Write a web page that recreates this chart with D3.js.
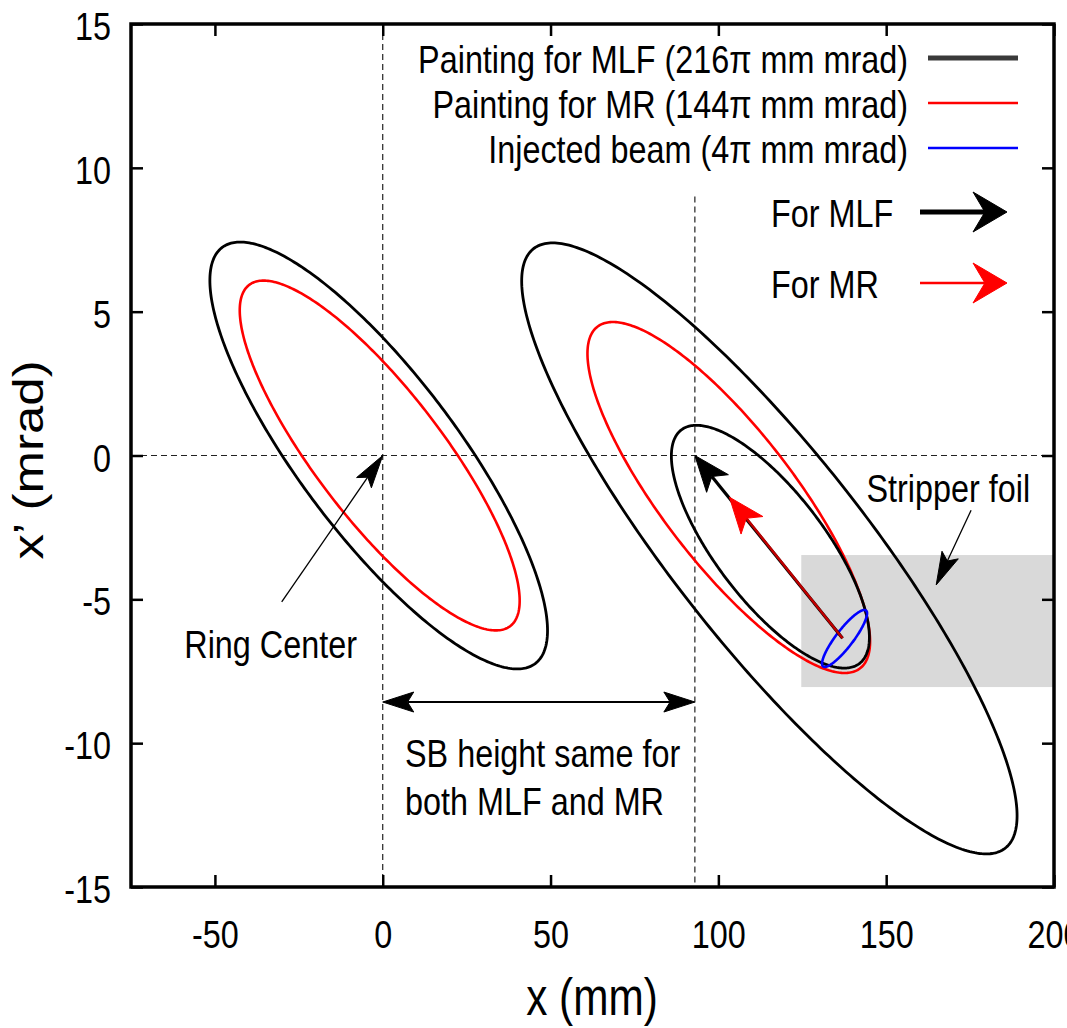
<!DOCTYPE html>
<html>
<head>
<meta charset="utf-8">
<script src="https://cdn.jsdelivr.net/npm/d3@7"></script>
<style>
  html, body { margin: 0; padding: 0; background: #fff; }
  svg { display: block; }
  text { font-family: "Liberation Sans", Arial, Helvetica, sans-serif; fill: #000; }
</style>
</head>
<body>
<svg id="chart" width="1067" height="1028"></svg>
<script>
// ---------------- data ----------------
const xTicks = [-50, 0, 50, 100, 150, 200];
const yTicks = [-15, -10, -5, 0, 5, 10, 15];
const xDomain = [-75, 200];
const yDomain = [-15, 15];

// phase-space ellipses: centre (mm, mrad), half-extent in x (mm), in x' (mrad), x-x' correlation
const ellipseSeries = ["MLF", "MR", "MLF", "MR", "MLF", "INJ"];
const ellipseCx     = [-1.2, -0.9, 115.2, 103.1, 115.5, 137.6];
const ellipseCy     = [0, 0, -3.23, -1.46, -3.17, -6.36];
const ellipseHalfX  = [50.3, 41.7, 73.8, 42.1, 29.5, 6.7];
const ellipseHalfXp = [7.42, 6.08, 10.62, 6.1, 4.22, 0.99];
const ellipseCorr   = [-0.82, -0.83, -0.875, -0.82, -0.746, 0.88];

// painting arrows (x mm, x' mrad)
const paintStart = [137, -6.35];
const paintEndMLF = [93, 0];
const paintEndMR = [103.3, -1.45];

// reference lines
const ringCenter = [0, 0];
const sbShift = 93;          // x of shifted bump
const sbTop = 9;             // top of shifted dashed line (mrad)
const sbArrowY = -8.57;

// stripper foil region
const foilX = [124.7, 200];
const foilY = [-8.05, -3.46];

// annotation arrows
const ringArrowTail = [-30.1, -5.09];
const foilArrowTail = [175.3, -1.9];
const foilArrowTip = [164.9, -4.5];

// legend
const legendLabels = ["Painting for MLF (216\u03c0 mm mrad)", "Painting for MR (144\u03c0 mm mrad)", "Injected beam (4\u03c0 mm mrad)"];
const legendKeys = ["MLF", "MR", "INJ"];
const arrowLegendLabels = ["For MLF", "For MR"];
const arrowLegendKeys = ["MLF", "MR"];
const annotationTexts = ["Ring Center", "Stripper foil", "SB height same for", "both MLF and MR"];
const xLabel = "x (mm)";
const yLabel = "x\u2019 (mrad)";

// ---------------- styles ----------------
const colorOf = { MLF: "#000000", MR: "#ff0000", INJ: "#0000ff" };
const widthOf = { MLF: 2.8, MR: 2.6, INJ: 2.6 };
const SX = 0.83;         // horizontal squeeze of glyphs
const FS = 39;           // base font size
const LFS = 51;          // axis label font size

const svg = d3.select("#chart");
const L = 131, R = 1054, T = 24, B = 887;
const x = d3.scaleLinear().domain(xDomain).range([L, R]);
const y = d3.scaleLinear().domain(yDomain).range([B, T]);

function addText(px, py, str, anchor, size) {
  const g = svg.append("g").attr("transform", `translate(${px},${py}) scale(${SX},1)`);
  g.append("text").attr("text-anchor", anchor || "start")
    .style("font-size", (size || FS) + "px").text(str);
  return g;
}

function arrowHead(g, tip, tail, len, half, color, notch) {
  const dx = tip[0] - tail[0], dy = tip[1] - tail[1];
  const d = Math.hypot(dx, dy);
  const ux = dx / d, uy = dy / d, px = -uy, py = ux;
  const bx = tip[0] - len * ux, by = tip[1] - len * uy;
  const nx = tip[0] - notch * len * ux, ny = tip[1] - notch * len * uy;
  const pts = [[tip[0], tip[1]], [bx + half * px, by + half * py], [nx, ny], [bx - half * px, by - half * py]];
  g.append("polygon").attr("points", pts.map(p => p.join(",")).join(" "))
    .attr("fill", color).attr("stroke", color).attr("stroke-width", 1).attr("stroke-linejoin", "miter");
  return [nx, ny];
}

function arrow(tailD, tipD, color, width, len, half, notch, shaftColor) {
  const g = svg.append("g");
  const tail = [x(tailD[0]), y(tailD[1])], tip = [x(tipD[0]), y(tipD[1])];
  const n = arrowHead(g, tip, tail, len, half, color, notch);
  g.insert("line", "polygon").attr("x1", tail[0]).attr("y1", tail[1]).attr("x2", n[0]).attr("y2", n[1])
    .attr("stroke", shaftColor || color).attr("stroke-width", width);
  return g;
}

// ---------------- foil ----------------
svg.append("rect")
  .attr("x", x(foilX[0])).attr("y", y(foilY[1]))
  .attr("width", x(foilX[1]) - x(foilX[0])).attr("height", y(foilY[0]) - y(foilY[1]))
  .attr("fill", "#d9d9d9");

// ---------------- dashed reference lines ----------------
const dash = "6,4";
svg.append("line").attr("x1", x(ringCenter[0])).attr("x2", x(ringCenter[0]))
  .attr("y1", y(yDomain[1])).attr("y2", y(yDomain[0]))
  .attr("stroke", "#222").attr("stroke-width", 1.2).attr("stroke-dasharray", dash);
svg.append("line").attr("x1", x(sbShift)).attr("x2", x(sbShift))
  .attr("y1", y(sbTop)).attr("y2", y(yDomain[0]))
  .attr("stroke", "#222").attr("stroke-width", 1.2).attr("stroke-dasharray", dash);
svg.append("line").attr("x1", x(xDomain[0])).attr("x2", x(xDomain[1]))
  .attr("y1", y(ringCenter[1])).attr("y2", y(ringCenter[1]))
  .attr("stroke", "#222").attr("stroke-width", 1.2).attr("stroke-dasharray", dash);

// ---------------- ellipses ----------------
const line = d3.line().x(d => x(d[0])).y(d => y(d[1])).curve(d3.curveLinearClosed);
const angles = d3.range(0, 360, 1).map(a => a * Math.PI / 180);
ellipseSeries.forEach((s, i) => {
  const phi = Math.acos(ellipseCorr[i]);
  const pts = angles.map(t => [ellipseCx[i] + ellipseHalfX[i] * Math.cos(t),
                               ellipseCy[i] + ellipseHalfXp[i] * Math.cos(t + phi)]);
  svg.append("path").attr("d", line(pts)).attr("fill", "none")
    .attr("stroke", colorOf[s]).attr("stroke-width", widthOf[s]);
});

// ---------------- painting arrows ----------------
arrow(paintStart, paintEndMLF, "#000", 3.2, 36, 14, 0.75);
arrow(paintStart, paintEndMR, "#ff0000", 2.4, 36, 14, 0.75, "#c00000");

// ---------------- annotation arrows ----------------
arrow(ringArrowTail, ringCenter, "#000", 1.3, 33, 9, 0.8);
arrow(foilArrowTail, foilArrowTip, "#000", 1.3, 33, 9, 0.8);
{
  const g = svg.append("g");
  const a = [x(0), y(sbArrowY)], b = [x(sbShift), y(sbArrowY)];
  const n1 = arrowHead(g, a, b, 31, 10, "#000", 0.8);
  const n2 = arrowHead(g, b, a, 31, 10, "#000", 0.8);
  g.insert("line", "polygon").attr("x1", n1[0]).attr("y1", n1[1]).attr("x2", n2[0]).attr("y2", n2[1])
    .attr("stroke", "#000").attr("stroke-width", 2);
}

// ---------------- annotation text ----------------
addText(x(-33.4), y(-7.05), annotationTexts[0], "middle");
addText(x(168.5), y(-1.6), annotationTexts[1], "middle");
addText(405, 767, annotationTexts[2], "start");
addText(405, 815, annotationTexts[3], "start");

// ---------------- axes ----------------
const fmt = d => String(d);
const yAxis = svg.append("g").attr("transform", `translate(${L},0)`)
  .call(d3.axisLeft(y).tickValues(yTicks).tickSize(-12).tickPadding(20).tickFormat(fmt));
const xAxis = svg.append("g").attr("transform", `translate(0,${B})`)
  .call(d3.axisBottom(x).tickValues(xTicks).tickSize(-12).tickPadding(33).tickFormat(fmt));
const topAxis = svg.append("g").attr("transform", `translate(0,${T})`)
  .call(d3.axisTop(x).tickValues(xTicks).tickSize(-12).tickFormat(""));
const rightAxis = svg.append("g").attr("transform", `translate(${R},0)`)
  .call(d3.axisRight(y).tickValues(yTicks).tickSize(-12).tickFormat(""));
[yAxis, xAxis, topAxis, rightAxis].forEach(g => {
  g.select(".domain").remove();
  g.selectAll(".tick line").attr("stroke", "#000").attr("stroke-width", 2.5);
  g.selectAll("text").attr("font-family", null).attr("fill", "#000").style("font-size", FS + "px");
});
yAxis.selectAll(".tick text").attr("x", -20 / SX).attr("dy", "0.4em").attr("transform", `scale(${SX},1)`);
xAxis.selectAll(".tick text").attr("transform", `scale(${SX},1)`);

// frame
svg.append("rect").attr("x", L).attr("y", T).attr("width", R - L).attr("height", B - T)
  .attr("fill", "none").attr("stroke", "#000").attr("stroke-width", 3.5);

// axis labels
svg.append("g").attr("transform", `translate(592,1015) scale(${SX},1)`)
  .append("text").attr("text-anchor", "middle").style("font-size", LFS + "px").text(xLabel);
svg.append("g").attr("transform", `translate(43,460) rotate(-90) scale(1,${SX})`)
  .append("text").attr("text-anchor", "middle").style("font-size", LFS + "px").text(yLabel);

// ---------------- legend ----------------
const legendRowY = [58, 103, 148];
legendLabels.forEach((lab, i) => {
  addText(908, legendRowY[i] + 15, lab, "end");
  const k = legendKeys[i];
  svg.append("line").attr("x1", 928).attr("x2", 1018).attr("y1", legendRowY[i]).attr("y2", legendRowY[i])
    .attr("stroke", k === "MLF" ? "#3a3a3a" : colorOf[k]).attr("stroke-width", k === "MLF" ? 5 : 2.6);
});
const arrowRowY = [212, 283];
arrowLegendLabels.forEach((lab, i) => {
  addText(771, arrowRowY[i] + 15, lab, "start");
  const k = arrowLegendKeys[i];
  const g = svg.append("g");
  const tail = [920, arrowRowY[i]], tip = [1007, arrowRowY[i]];
  const n = arrowHead(g, tip, tail, 34, 20, k === "MLF" ? "#000" : "#ff0000", 0.65);
  g.insert("line", "polygon").attr("x1", tail[0]).attr("y1", tail[1]).attr("x2", n[0]).attr("y2", n[1])
    .attr("stroke", k === "MLF" ? "#000" : "#ff0000").attr("stroke-width", k === "MLF" ? 5 : 2.6);
});
</script>
</body>
</html>
